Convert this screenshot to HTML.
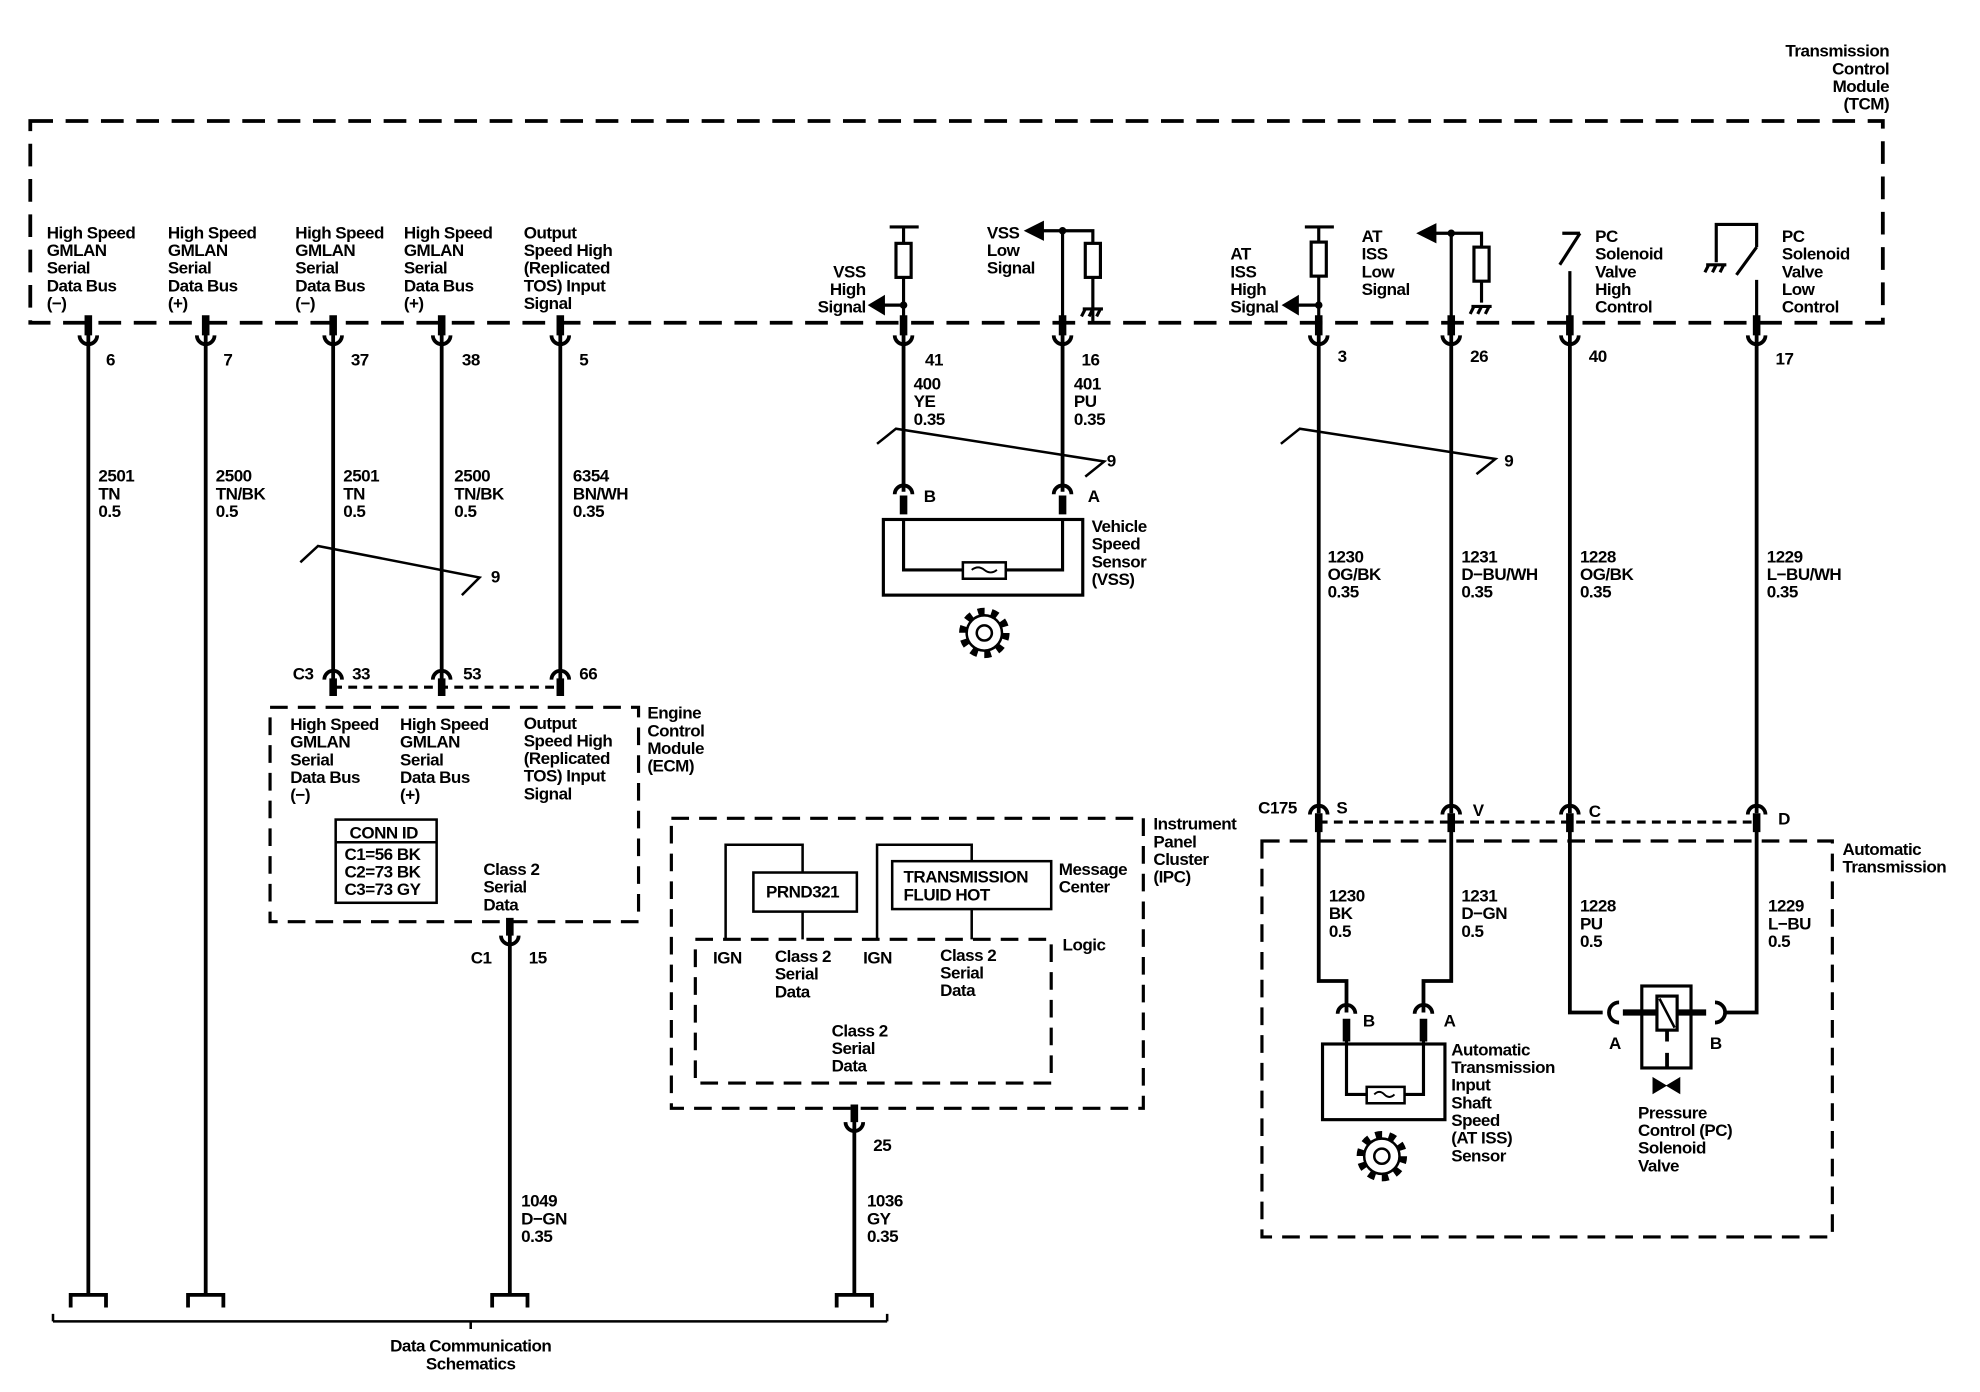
<!DOCTYPE html>
<html><head><meta charset="utf-8"><style>
html,body{margin:0;padding:0;background:#fff;}
svg{display:block;}
text{font-family:"Liberation Sans",Arial,sans-serif;font-size:13.5px;font-weight:bold;letter-spacing:-0.4px;fill:#000;}
</style></head><body>
<svg width="1980" height="1392" viewBox="0 0 1569 1104" preserveAspectRatio="none" xmlns="http://www.w3.org/2000/svg">
<defs>
<g id="cup"><path d="M-7,-4 A7,7 0 0 0 7,-4" fill="none" stroke="#000" stroke-width="3"/></g>
<g id="cap"><path d="M-7,4 A7,7 0 0 1 7,4" fill="none" stroke="#000" stroke-width="3"/></g>
<g id="gnd"><path d="M-8,0 H8 M-6,0 L-9,6 M0,0 L-3,6 M6,0 L3,6" stroke="#000" stroke-width="2.5" fill="none"/></g>
<g id="gear"><circle r="17" fill="none" stroke="#000" stroke-width="6" stroke-dasharray="5.3 5.4"/><circle r="14" fill="#fff" stroke="#000" stroke-width="2"/><circle r="6" fill="none" stroke="#000" stroke-width="2"/></g>
<g id="term"><path d="M-14,10 V0 H14 V10" fill="none" stroke="#000" stroke-width="3"/></g>
</defs>
<g fill="none" stroke="#000">
<rect x="24" y="96" width="1468" height="160" stroke-width="3" stroke-dasharray="18 10"/>
<rect x="214" y="561" width="292" height="170" stroke-width="2.5" stroke-dasharray="14 8"/>
<line x1="264" y1="545" x2="444" y2="545" stroke-width="2.5" stroke-dasharray="7 5"/>
<rect x="266" y="650" width="80" height="66" stroke-width="2"/>
<line x1="266" y1="668" x2="346" y2="668" stroke-width="2"/>
<rect x="532" y="649" width="374" height="230" stroke-width="2.5" stroke-dasharray="14 8"/>
<rect x="551" y="745" width="282" height="114" stroke-width="2.5" stroke-dasharray="14 8"/>
<rect x="597" y="692" width="82" height="31" stroke-width="2"/>
<rect x="707" y="683" width="126" height="38" stroke-width="2"/>
<path d="M575,745 V670 H636 V692 M636,723 V745 M695,745 V670 H770 V683 M770,721 V745" stroke-width="2"/>
<rect x="1000" y="667" width="452" height="314" stroke-width="2.5" stroke-dasharray="14 8"/>
<line x1="1045" y1="652" x2="1392" y2="652" stroke-width="2.5" stroke-dasharray="7 5"/>
<g stroke-width="3">
<path d="M70,256 V1028 M163,256 V1028 M264,256 V540 M350,256 V540 M444,256 V540"/>
<path d="M404,731 V1028 M677,879 V1028"/>
<path d="M716,256 V390 M842,256 V390"/>
<path d="M1045,256 V645 M1150,256 V645 M1244,256 V645 M1392,256 V645"/>
<path d="M1045,658 V778 H1067 V803 M1150,658 V778 H1128 V803"/>
<path d="M1244,658 V803 H1270 M1392,658 V803 H1368"/>
</g>
<g stroke-width="6"><path d="M70,250 V266 M163,250 V266 M264,250 V266 M350,250 V266 M444,250 V266 M716,250 V266 M842,250 V266 M1045,250 V266 M1150,250 V266 M1244,250 V266 M1392,250 V266"/>
<path d="M264,538 V552 M350,538 V552 M444,538 V552 M404,728 V742 M677,876 V890 M716,393 V408 M842,393 V408 M1045,645 V660 M1150,645 V660 M1244,645 V660 M1392,645 V660 M1067,808 V826 M1128,808 V826"/></g>
<g stroke-width="2.5">
<path d="M705,180 H728 M716,180 V256"/>
<path d="M716,242 H700"/><path d="M700,236 L690,242 L700,248Z" fill="#000"/>
<path d="M842,183 V256 M842,183 H866 V256"/><path d="M842,183 H825"/><path d="M826,177 L814,183 L826,189Z" fill="#000"/>
<path d="M1034,180 H1057 M1045,180 V256"/>
<path d="M1045,242 H1028"/><path d="M1028,236 L1018,242 L1028,248Z" fill="#000"/>
<path d="M1150,185 V256 M1150,185 H1174 V240 M1150,185 H1135"/><path d="M1137,179 L1125,185 L1137,191Z" fill="#000"/>
<path d="M1238,185 H1252 M1252,185 L1236,210 M1244,215 V256"/>
<path d="M1360,208 V178 H1392 V196 M1392,196 L1376,218 M1392,222 V256"/>
</g>
<rect x="710" y="193" width="12" height="27" fill="#fff" stroke-width="2.5"/>
<rect x="860" y="193" width="12" height="27" fill="#fff" stroke-width="2.5"/>
<rect x="1039" y="192" width="12" height="27" fill="#fff" stroke-width="2.5"/>
<rect x="1168" y="196" width="12" height="27" fill="#fff" stroke-width="2.5"/>
<circle cx="716" cy="242" r="2.5" fill="#000"/><circle cx="842" cy="183" r="2.5" fill="#000"/>
<circle cx="1045" cy="242" r="2.5" fill="#000"/><circle cx="1150" cy="185" r="2.5" fill="#000"/>
<path d="M238,446 L252,433 L380,458 L366,472" stroke-width="2"/>
<path d="M695,352 L710,340 L875,366 L860,378" stroke-width="2"/>
<path d="M1015,352 L1030,340 L1185,364 L1170,376" stroke-width="2"/>
<rect x="700" y="412" width="158" height="60" stroke-width="2.5"/>
<path d="M716,412 V452 H842 V412" stroke-width="2.5"/>
<rect x="763" y="446" width="34" height="13" fill="#fff" stroke-width="2"/>
<path d="M770,452 q5,-4 10,0 t10,0" stroke-width="1.5"/>
<rect x="1048" y="828" width="97" height="60" stroke-width="2.5"/>
<path d="M1067,826 V868 H1128 V826" stroke-width="2.5"/>
<rect x="1083" y="862" width="30" height="13" fill="#fff" stroke-width="2"/>
<path d="M1089,868 q4,-4 8,0 t8,0" stroke-width="1.5"/>
<rect x="1301" y="782" width="39" height="65" stroke-width="2.5"/>
<rect x="1313" y="790" width="16" height="27" stroke-width="2.5"/>
<path d="M1315,792 L1327,815" stroke-width="2"/>
<path d="M1286,803 H1313 M1329,803 H1352" stroke-width="5"/>
<path d="M1321,817 V826 M1321,835 V847" stroke-width="3"/>
<path d="M1283,795 A8,8 0 0 0 1283,811 M1359,795 A8,8 0 0 1 1359,811" stroke-width="3"/>
<path d="M1369,803 H1392" stroke-width="2.5"/>
<path d="M1310,855 L1320,861 L1310,867Z M1331,855 L1321,861 L1331,867Z" fill="#000" stroke-width="1"/>
<path d="M42,1048 H703 M42,1042 V1048 M703,1042 V1048 M373,1048 V1054" stroke-width="2"/>
</g>
<g>
<use href="#cup" x="70" y="270"/><use href="#cup" x="163" y="270"/><use href="#cup" x="264" y="270"/><use href="#cup" x="350" y="270"/><use href="#cup" x="444" y="270"/><use href="#cup" x="716" y="270"/><use href="#cup" x="842" y="270"/><use href="#cup" x="1045" y="270"/><use href="#cup" x="1150" y="270"/><use href="#cup" x="1244" y="270"/><use href="#cup" x="1392" y="270"/>
<use href="#cap" x="264" y="535"/><use href="#cap" x="350" y="535"/><use href="#cap" x="444" y="535"/>
<use href="#cup" x="404" y="746"/><use href="#cup" x="677" y="894"/>
<use href="#cap" x="716" y="388"/><use href="#cap" x="842" y="388"/>
<use href="#cap" x="1045" y="642"/><use href="#cap" x="1150" y="642"/><use href="#cap" x="1244" y="642"/><use href="#cap" x="1392" y="642"/>
<use href="#cap" x="1067" y="800"/><use href="#cap" x="1128" y="800"/>
<use href="#gnd" x="866" y="245"/><use href="#gnd" x="1174" y="243"/><use href="#gnd" x="1360" y="210"/>
<use href="#gear" x="780" y="502"/><use href="#gear" x="1095" y="917"/>
<use href="#term" x="70" y="1027"/><use href="#term" x="163" y="1027"/><use href="#term" x="404" y="1027"/><use href="#term" x="677" y="1027"/>
</g>
<g>
<text x="1497" y="45" text-anchor="end"><tspan x="1497">Transmission</tspan><tspan x="1497" dy="14">Control</tspan><tspan x="1497" dy="14">Module</tspan><tspan x="1497" dy="14">(TCM)</tspan></text>
<text y="189"><tspan x="37">High Speed</tspan><tspan x="37" dy="14">GMLAN</tspan><tspan x="37" dy="14">Serial</tspan><tspan x="37" dy="14">Data Bus</tspan><tspan x="37" dy="14">(−)</tspan></text>
<text y="189"><tspan x="133">High Speed</tspan><tspan x="133" dy="14">GMLAN</tspan><tspan x="133" dy="14">Serial</tspan><tspan x="133" dy="14">Data Bus</tspan><tspan x="133" dy="14">(+)</tspan></text>
<text y="189"><tspan x="234">High Speed</tspan><tspan x="234" dy="14">GMLAN</tspan><tspan x="234" dy="14">Serial</tspan><tspan x="234" dy="14">Data Bus</tspan><tspan x="234" dy="14">(−)</tspan></text>
<text y="189"><tspan x="320">High Speed</tspan><tspan x="320" dy="14">GMLAN</tspan><tspan x="320" dy="14">Serial</tspan><tspan x="320" dy="14">Data Bus</tspan><tspan x="320" dy="14">(+)</tspan></text>
<text y="189"><tspan x="415">Output</tspan><tspan x="415" dy="14">Speed High</tspan><tspan x="415" dy="14">(Replicated</tspan><tspan x="415" dy="14">TOS) Input</tspan><tspan x="415" dy="14">Signal</tspan></text>
<text y="220" text-anchor="end"><tspan x="686">VSS</tspan><tspan x="686" dy="14">High</tspan><tspan x="686" dy="14">Signal</tspan></text>
<text y="189"><tspan x="782">VSS</tspan><tspan x="782" dy="14">Low</tspan><tspan x="782" dy="14">Signal</tspan></text>
<text y="206"><tspan x="975">AT</tspan><tspan x="975" dy="14">ISS</tspan><tspan x="975" dy="14">High</tspan><tspan x="975" dy="14">Signal</tspan></text>
<text y="192"><tspan x="1079">AT</tspan><tspan x="1079" dy="14">ISS</tspan><tspan x="1079" dy="14">Low</tspan><tspan x="1079" dy="14">Signal</tspan></text>
<text y="192"><tspan x="1264">PC</tspan><tspan x="1264" dy="14">Solenoid</tspan><tspan x="1264" dy="14">Valve</tspan><tspan x="1264" dy="14">High</tspan><tspan x="1264" dy="14">Control</tspan></text>
<text y="192"><tspan x="1412">PC</tspan><tspan x="1412" dy="14">Solenoid</tspan><tspan x="1412" dy="14">Valve</tspan><tspan x="1412" dy="14">Low</tspan><tspan x="1412" dy="14">Control</tspan></text>
<text x="84" y="290">6</text><text x="177" y="290">7</text><text x="278" y="290">37</text><text x="366" y="290">38</text><text x="459" y="290">5</text>
<text x="733" y="290">41</text><text x="857" y="290">16</text><text x="1060" y="287">3</text><text x="1165" y="287">26</text><text x="1259" y="287">40</text><text x="1407" y="289">17</text>
<text y="382"><tspan x="78">2501</tspan><tspan x="78" dy="14">TN</tspan><tspan x="78" dy="14">0.5</tspan></text>
<text y="382"><tspan x="171">2500</tspan><tspan x="171" dy="14">TN/BK</tspan><tspan x="171" dy="14">0.5</tspan></text>
<text y="382"><tspan x="272">2501</tspan><tspan x="272" dy="14">TN</tspan><tspan x="272" dy="14">0.5</tspan></text>
<text y="382"><tspan x="360">2500</tspan><tspan x="360" dy="14">TN/BK</tspan><tspan x="360" dy="14">0.5</tspan></text>
<text y="382"><tspan x="454">6354</tspan><tspan x="454" dy="14">BN/WH</tspan><tspan x="454" dy="14">0.35</tspan></text>
<text x="389" y="462">9</text>
<text y="309"><tspan x="724">400</tspan><tspan x="724" dy="14">YE</tspan><tspan x="724" dy="14">0.35</tspan></text>
<text y="309"><tspan x="851">401</tspan><tspan x="851" dy="14">PU</tspan><tspan x="851" dy="14">0.35</tspan></text>
<text x="877" y="370">9</text><text x="1192" y="370">9</text>
<text x="732" y="398">B</text><text x="862" y="398">A</text>
<text y="422"><tspan x="865">Vehicle</tspan><tspan x="865" dy="14">Speed</tspan><tspan x="865" dy="14">Sensor</tspan><tspan x="865" dy="14">(VSS)</tspan></text>
<text y="446"><tspan x="1052">1230</tspan><tspan x="1052" dy="14">OG/BK</tspan><tspan x="1052" dy="14">0.35</tspan></text>
<text y="446"><tspan x="1158">1231</tspan><tspan x="1158" dy="14">D−BU/WH</tspan><tspan x="1158" dy="14">0.35</tspan></text>
<text y="446"><tspan x="1252">1228</tspan><tspan x="1252" dy="14">OG/BK</tspan><tspan x="1252" dy="14">0.35</tspan></text>
<text y="446"><tspan x="1400">1229</tspan><tspan x="1400" dy="14">L−BU/WH</tspan><tspan x="1400" dy="14">0.35</tspan></text>
<text x="232" y="539">C3</text><text x="279" y="539">33</text><text x="367" y="539">53</text><text x="459" y="539">66</text>
<text y="570"><tspan x="513">Engine</tspan><tspan x="513" dy="14">Control</tspan><tspan x="513" dy="14">Module</tspan><tspan x="513" dy="14">(ECM)</tspan></text>
<text y="579"><tspan x="230">High Speed</tspan><tspan x="230" dy="14">GMLAN</tspan><tspan x="230" dy="14">Serial</tspan><tspan x="230" dy="14">Data Bus</tspan><tspan x="230" dy="14">(−)</tspan></text>
<text y="579"><tspan x="317">High Speed</tspan><tspan x="317" dy="14">GMLAN</tspan><tspan x="317" dy="14">Serial</tspan><tspan x="317" dy="14">Data Bus</tspan><tspan x="317" dy="14">(+)</tspan></text>
<text y="578"><tspan x="415">Output</tspan><tspan x="415" dy="14">Speed High</tspan><tspan x="415" dy="14">(Replicated</tspan><tspan x="415" dy="14">TOS) Input</tspan><tspan x="415" dy="14">Signal</tspan></text>
<text x="277" y="665">CONN ID</text>
<text y="682"><tspan x="273">C1=56 BK</tspan><tspan x="273" dy="14">C2=73 BK</tspan><tspan x="273" dy="14">C3=73 GY</tspan></text>
<text y="694"><tspan x="383">Class 2</tspan><tspan x="383" dy="14">Serial</tspan><tspan x="383" dy="14">Data</tspan></text>
<text x="373" y="764">C1</text><text x="419" y="764">15</text>
<text y="957"><tspan x="413">1049</tspan><tspan x="413" dy="14">D−GN</tspan><tspan x="413" dy="14">0.35</tspan></text>
<text y="658"><tspan x="914">Instrument</tspan><tspan x="914" dy="14">Panel</tspan><tspan x="914" dy="14">Cluster</tspan><tspan x="914" dy="14">(IPC)</tspan></text>
<text y="694"><tspan x="839">Message</tspan><tspan x="839" dy="14">Center</tspan></text>
<text x="842" y="754">Logic</text>
<text x="607" y="712">PRND321</text>
<text y="700"><tspan x="716">TRANSMISSION</tspan><tspan x="716" dy="14">FLUID HOT</tspan></text>
<text x="565" y="764">IGN</text><text x="684" y="764">IGN</text>
<text y="763"><tspan x="614">Class 2</tspan><tspan x="614" dy="14">Serial</tspan><tspan x="614" dy="14">Data</tspan></text>
<text y="762"><tspan x="745">Class 2</tspan><tspan x="745" dy="14">Serial</tspan><tspan x="745" dy="14">Data</tspan></text>
<text y="822"><tspan x="659">Class 2</tspan><tspan x="659" dy="14">Serial</tspan><tspan x="659" dy="14">Data</tspan></text>
<text x="692" y="913">25</text>
<text y="957"><tspan x="687">1036</tspan><tspan x="687" dy="14">GY</tspan><tspan x="687" dy="14">0.35</tspan></text>
<text x="373" y="1072" text-anchor="middle">Data Communication</text>
<text x="373" y="1086" text-anchor="middle">Schematics</text>
<text x="997" y="645">C175</text><text x="1059" y="645">S</text><text x="1167" y="647">V</text><text x="1259" y="648">C</text><text x="1409" y="654">D</text>
<text y="678"><tspan x="1460">Automatic</tspan><tspan x="1460" dy="14">Transmission</tspan></text>
<text y="715"><tspan x="1053">1230</tspan><tspan x="1053" dy="14">BK</tspan><tspan x="1053" dy="14">0.5</tspan></text>
<text y="715"><tspan x="1158">1231</tspan><tspan x="1158" dy="14">D−GN</tspan><tspan x="1158" dy="14">0.5</tspan></text>
<text y="723"><tspan x="1252">1228</tspan><tspan x="1252" dy="14">PU</tspan><tspan x="1252" dy="14">0.5</tspan></text>
<text y="723"><tspan x="1401">1229</tspan><tspan x="1401" dy="14">L−BU</tspan><tspan x="1401" dy="14">0.5</tspan></text>
<text x="1080" y="814">B</text><text x="1144" y="814">A</text>
<text y="837"><tspan x="1150">Automatic</tspan><tspan x="1150" dy="14">Transmission</tspan><tspan x="1150" dy="14">Input</tspan><tspan x="1150" dy="14">Shaft</tspan><tspan x="1150" dy="14">Speed</tspan><tspan x="1150" dy="14">(AT ISS)</tspan><tspan x="1150" dy="14">Sensor</tspan></text>
<text x="1275" y="832">A</text><text x="1355" y="832">B</text>
<text y="887"><tspan x="1298">Pressure</tspan><tspan x="1298" dy="14">Control (PC)</tspan><tspan x="1298" dy="14">Solenoid</tspan><tspan x="1298" dy="14">Valve</tspan></text>
</g>
</svg>
</body></html>
